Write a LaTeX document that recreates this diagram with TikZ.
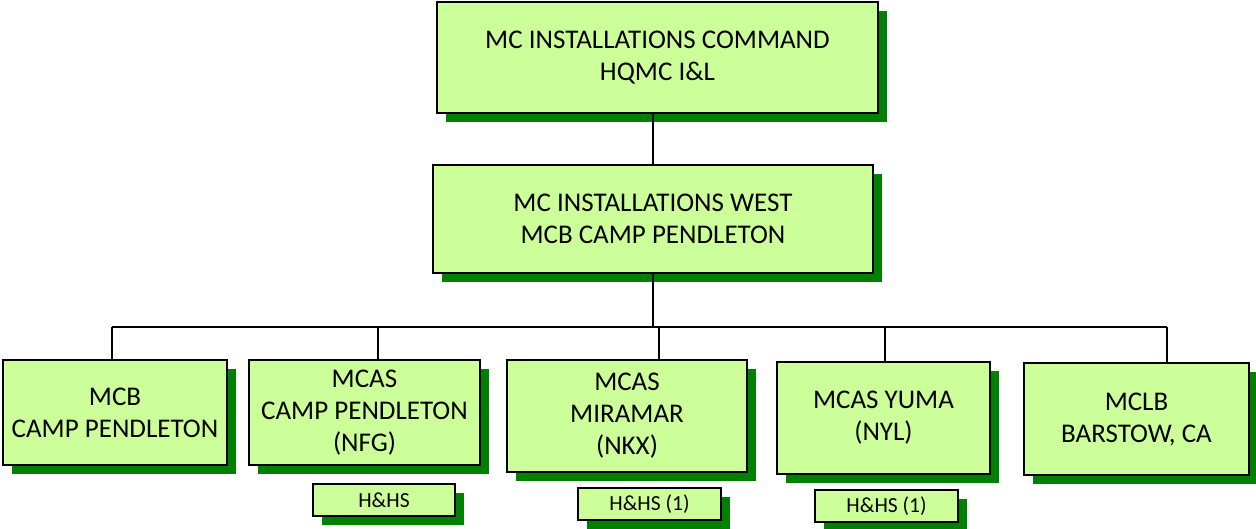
\documentclass[tikz,border=0pt]{standalone}
\usepackage{fontspec}
\setmainfont{Carlito}
\usetikzlibrary{positioning,shadows}
\definecolor{unitfill}{HTML}{CCFF99}
\definecolor{unitshadow}{HTML}{008000}

\begin{document}
\begin{tikzpicture}[
    x=1pt,y=-1pt,
    every node/.style={font=\fontsize{27}{32}\selectfont},
    unit/.style={draw,line width=1.5pt,fill=unitfill,align=center,inner sep=0pt,
        drop shadow={shadow xshift=9pt,shadow yshift=-9pt,fill=unitshadow,opacity=1}},
    subunit/.style={unit,font=\fontsize{21.5}{26}\selectfont,minimum width=142pt,minimum height=32pt},
    link/.style={line width=1.2pt},
]
\useasboundingbox (0,0) rectangle (1256,528);

% Command levels
\node[unit,minimum width=441pt,minimum height=111pt] (command) at (657.5,57.5)
    {MC INSTALLATIONS COMMAND\\HQMC I\&L};
\node[unit,minimum width=440pt,minimum height=108pt] (west) at (653,219)
    {MC INSTALLATIONS WEST\\MCB CAMP PENDLETON};

% Installations
\node[unit,minimum width=224pt,minimum height=105pt] (mcb) at (115,412.5)
    {MCB\\CAMP PENDLETON};
\node[unit,minimum width=231pt,minimum height=105pt] (mcascp) at (364.5,412.5)
    {MCAS\\CAMP PENDLETON\\(NFG)};
\node[unit,minimum width=240pt,minimum height=112pt] (miramar) at (627,416)
    {MCAS\\MIRAMAR\\(NKX)};
\node[unit,minimum width=213pt,minimum height=112pt] (yuma) at (883.5,418)
    {MCAS YUMA\\(NYL)};
\node[unit,minimum width=225pt,minimum height=112pt] (mclb) at (1136.5,419)
    {MCLB\\BARSTOW, CA};

% H&HS squadrons
\node[subunit] (hhscp) at (384,500) {H\&HS};
\node[subunit,minimum width=143pt] (hhsmir) at (649.5,504) {H\&HS (1)};
\node[subunit,minimum width=143pt] (hhsyuma) at (886.5,506) {H\&HS (1)};

% Bus and drop points
\coordinate (bus) at (650,327);
\coordinate (d1) at (112,327);
\coordinate (d2) at (378,327);
\coordinate (d3) at (659,327);
\coordinate (d4) at (885,327);
\coordinate (d5) at (1167,327);

% Connectors
\draw[link] (west.north) -- (west.north |- command.south);
\draw[link] (bus -| west.south) -- (west.south);
\draw[link] (d1) -- (d5);
\draw[link] (d1) -- (d1 |- mcb.north);
\draw[link] (d2) -- (d2 |- mcascp.north);
\draw[link] (d3) -- (d3 |- miramar.north);
\draw[link] (d4) -- (d4 |- yuma.north);
\draw[link] (d5) -- (d5 |- mclb.north);
\end{tikzpicture}
\end{document}
